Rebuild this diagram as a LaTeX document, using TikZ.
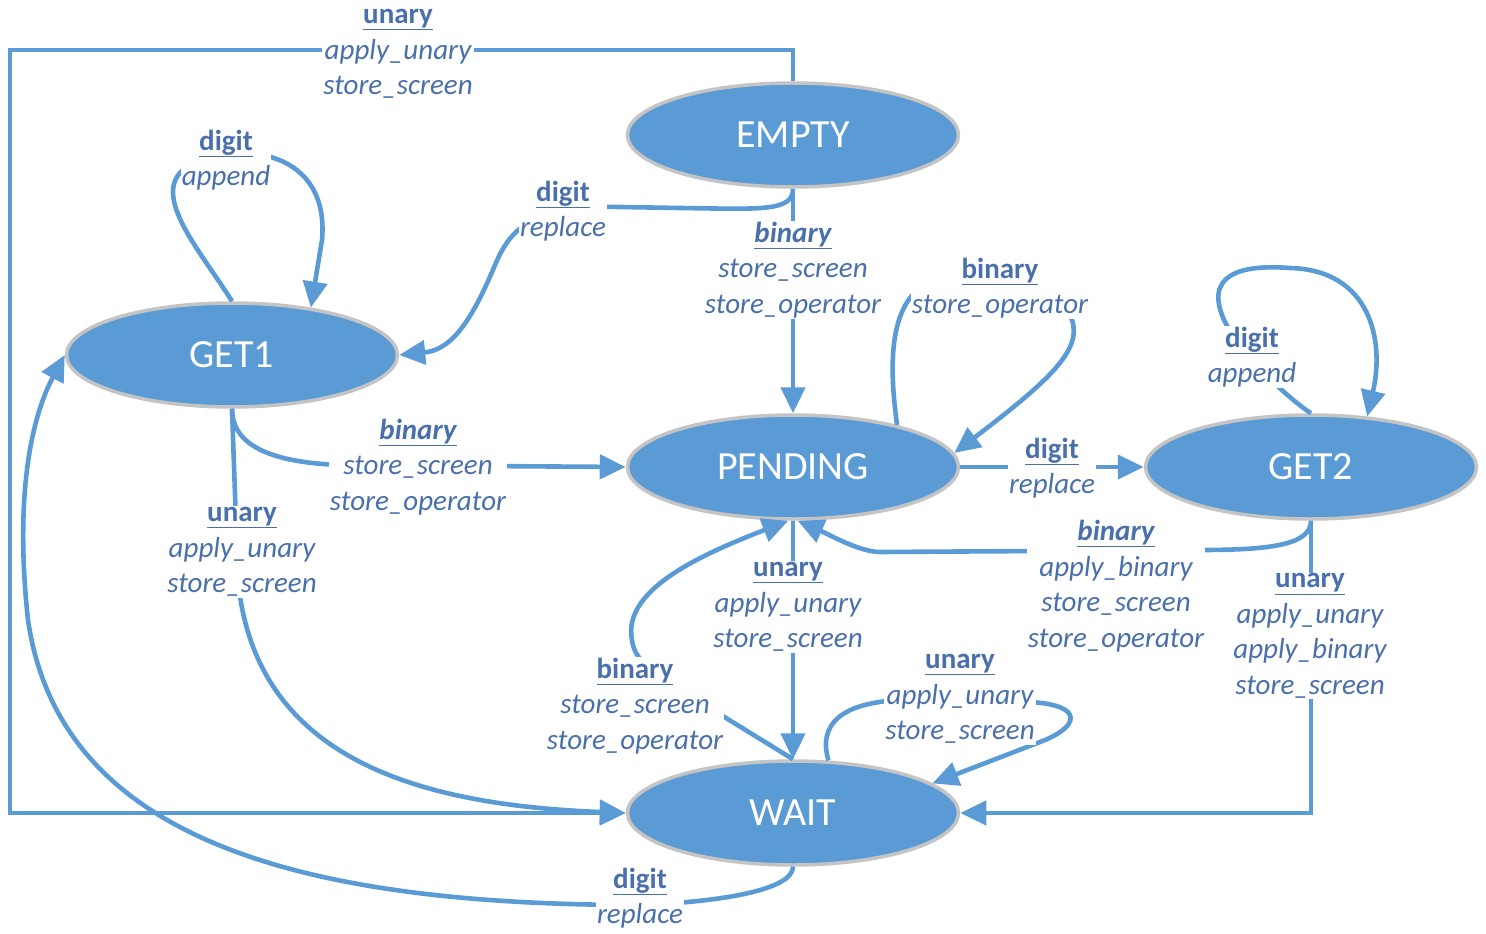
\documentclass[tikz,border=0pt]{standalone}
\usepackage{fontspec}
\setmainfont{Carlito}
\usetikzlibrary{arrows.meta,shapes.geometric}
\definecolor{stateblue}{RGB}{91,155,213}
\definecolor{rimgray}{RGB}{196,196,196}
\definecolor{labelblue}{RGB}{74,112,172}
\tikzset{
	state/.style={ellipse, fill=stateblue, draw=rimgray, line width=3.5pt, minimum width=331pt, minimum height=104pt, inner sep=0pt, text=white, font=\fontsize{40}{44}\selectfont},
	trans/.style={draw=stateblue, line width=4.6pt, -{Triangle[length=26pt,width=24pt]}},
	lbl/.style={fill=white, text=labelblue, align=center, inner sep=1pt, font=\fontsize{29}{35.5}\selectfont\itshape},
}
\newcommand{\evname}[1]{\underline{\textbf{\upshape #1}}}
\newcommand{\evslant}[1]{\underline{\textbf{#1}}}

\begin{document}
\begin{tikzpicture}[x=1pt,y=-1pt]
		%%%%% START %%%%%
		\useasboundingbox (0,0) rectangle (1486,934);
		
		% states
		\node[state] (empty) at (793,135) {EMPTY};
		\node[state] (get1) at (232,355) {GET1};
		\node[state] (pending) at (793,467) {PENDING};
		\node[state] (get2) at (1311,467) {GET2};
		\node[state] (wait) at (793,813) {WAIT};
		
		% transitions
		\draw[trans] (empty.north) |- (10,50) |- (wait.west);
		\draw[trans] (get1.north) .. controls (200,250) and (145,190) .. (190,165) .. controls (240,140) and (330,150) .. (322,240) -- (get1.31);
		\draw[trans] (empty.south) .. controls (793,212) and (760,209) .. (680,208) -- (620,207) .. controls (530,205) and (510,230) .. (495,265) .. controls (470,325) and (450,350) .. (get1.east);
		\draw[trans] (empty.south) -- (pending.north);
		\draw[trans] (pending.22) .. controls (888,360) and (890,300) .. (930,282) .. controls (990,260) and (1060,285) .. (1072,320) .. controls (1082,350) and (1050,380) .. (pending.5);
		\draw[trans] (get1.south) .. controls (232,440) and (260,462) .. (340,465) -- (pending.west);
		\draw[trans] (get1.south) -- (238,580) .. controls (255,760) and (420,805) .. (wait.west);
		\draw[trans] (pending.east) -- (get2.west);
		\draw[trans] (get2.north) .. controls (1290,400) and (1235,350) .. (1222,315) .. controls (1205,270) and (1250,265) .. (1290,268) .. controls (1370,270) and (1385,340) .. (get2.42);
		\draw[trans] (get2.south) .. controls (1311,545) and (1270,550) .. (1200,550) -- (880,552) .. controls (860,552) and (830,535) .. (pending.-85);
		\draw[trans] (get2.south) |- (wait.east);
		\draw[trans] (pending.south) -- (wait.north);
		\draw[trans] (wait.north) -- (700,702) .. controls (660,675) and (635,665) .. (632,640) .. controls (622,590) and (700,555) .. (pending.-95);
		\draw[trans] (wait.56) .. controls (818,725) and (840,703) .. (900,700) -- (1030,702) .. controls (1085,705) and (1080,727) .. (1040,742) -- (wait.12);
		\draw[trans] (wait.south) .. controls (793,890) and (720,902) .. (640,905) .. controls (300,905) and (60,840) .. (28,620) .. controls (15,500) and (30,420) .. (get1.west);
		
		% labels
		\node[lbl] (lab-empty-wait) at (398,54) {\evname{unary}\\apply\_unary\\store\_screen};
		\node[lbl] (lab-get1-loop) at (226,160) {\evname{digit}\\append};
		\node[lbl] (lab-empty-get1) at (563,211) {\evname{digit}\\replace};
		\node[lbl] (lab-empty-pending) at (793,270) {\evslant{binary}\\store\_screen\\store\_operator};
		\node[lbl] (lab-pending-loop) at (1000,288) {\evname{binary}\\store\_operator};
		\node[lbl] (lab-get1-pending) at (418,467) {\evslant{binary}\\store\_screen\\store\_operator};
		\node[lbl] (lab-get1-wait) at (242,552) {\evname{unary}\\apply\_unary\\store\_screen};
		\node[lbl] (lab-pending-get2) at (1052,468) {\evname{digit}\\replace};
		\node[lbl] (lab-get2-loop) at (1252,357) {\evname{digit}\\append};
		\node[lbl] (lab-get2-pending) at (1116,586) {\evslant{binary}\\apply\_binary\\store\_screen\\store\_operator};
		\node[lbl] (lab-get2-wait) at (1310,636) {\evname{unary}\\apply\_unary\\apply\_binary\\store\_screen};
		\node[lbl] (lab-pending-wait) at (788,607) {\evname{unary}\\apply\_unary\\store\_screen};
		\node[lbl] (lab-wait-pending) at (635,706) {\evname{binary}\\store\_screen\\store\_operator};
		\node[lbl] (lab-wait-loop) at (960,699) {\evname{unary}\\apply\_unary\\store\_screen};
		\node[lbl] (lab-wait-get1) at (640,898) {\evname{digit}\\replace};
		
		%%%%% END %%%%%
	\end{tikzpicture}
\end{document}
